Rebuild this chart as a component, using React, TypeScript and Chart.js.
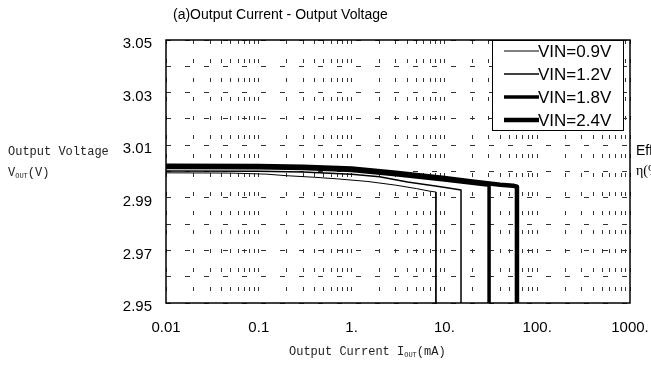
import React, { useEffect, useRef } from "react";
import { Chart, registerables } from "chart.js";

Chart.register(...registerables);

// ---- data ----
const seriesLabels = ["VIN=0.9V", "VIN=1.2V", "VIN=1.8V", "VIN=2.4V"];
const seriesWidths = [1, 1.5, 3.5, 4.5];

const current09 = [0.01, 0.05, 0.12, 0.2, 0.4, 0.7, 1.5, 3, 5, 7, 8.1, 8.1];
const vout09 = [2.9995, 2.9994, 2.999, 2.9984, 2.9978, 2.9972, 2.9962, 2.9948, 2.9935, 2.9925, 2.9922, 2.95];

const current12 = [0.01, 0.1, 0.3, 1, 2, 4, 8, 12, 15.1, 15.1];
const vout12 = [3.0002, 3.0001, 2.9998, 2.999, 2.998, 2.996, 2.9945, 2.9935, 2.993, 2.95];

const current18 = [0.01, 0.1, 0.3, 1, 3, 10, 20, 30.3, 30.3];
const vout18 = [3.0015, 3.0014, 3.0011, 3.0004, 2.9988, 2.9968, 2.9955, 2.9948, 2.95];

const current24 = [0.01, 0.1, 0.3, 1, 3, 10, 20, 40, 55, 60.5, 60.5];
const vout24 = [3.0022, 3.0021, 3.0018, 3.0011, 2.9995, 2.9975, 2.9962, 2.995, 2.9946, 2.9942, 2.95];

const xTickValues = [
  0.01, 0.02, 0.03, 0.04, 0.05, 0.06, 0.07, 0.08, 0.09,
  0.1, 0.2, 0.3, 0.4, 0.5, 0.6, 0.7, 0.8, 0.9,
  1, 2, 3, 4, 5, 6, 7, 8, 9,
  10, 20, 30, 40, 50, 60, 70, 80, 90,
  100, 200, 300, 400, 500, 600, 700, 800, 900,
  1000,
];
const xDecades = [0.01, 0.1, 1, 10, 100, 1000];
const xDecadeLabels = ["0.01", "0.1", "1.", "10.", "100.", "1000."];

const yTickValues = [2.95, 2.96, 2.97, 2.98, 2.99, 3.0, 3.01, 3.02, 3.03, 3.04, 3.05];
const yLabelled = [2.95, 2.97, 2.99, 3.01, 3.03, 3.05];
const yLabelTexts = ["2.95", "2.97", "2.99", "3.01", "3.03", "3.05"];

const titleText = "(a)Output Current - Output Voltage";

const toPoints = (xs: number[], ys: number[]) => xs.map((x, i) => ({ x, y: ys[i] }));

const frameAndLegend = {
  id: "frameAndLegend",
  afterDatasetsDraw(chart: any) {
    const { ctx, chartArea } = chart;
    const { left, top, right, bottom } = chartArea;
    ctx.save();
    // legend box
    const bx = right - 138;
    const bw = 131;
    const bh = 90;
    ctx.fillStyle = "#fff";
    ctx.fillRect(bx, top, bw, bh);
    ctx.strokeStyle = "#000";
    ctx.lineWidth = 1;
    ctx.strokeRect(bx + 0.5, top + 0.5, bw, bh);
    ctx.font = "17px 'Liberation Sans', Arial, sans-serif";
    ctx.textBaseline = "middle";
    ctx.textAlign = "left";
    ctx.fillStyle = "#000";
    chart.data.datasets.forEach((ds: any, i: number) => {
      const y = top + 11 + i * 23;
      ctx.beginPath();
      ctx.lineWidth = ds.borderWidth;
      ctx.strokeStyle = "#000";
      ctx.moveTo(bx + 12, y);
      ctx.lineTo(bx + 47, y);
      ctx.stroke();
      ctx.fillText(ds.label, bx + 46, y + 1);
    });
    // plot frame
    ctx.lineWidth = 1.5;
    ctx.strokeStyle = "#000";
    ctx.strokeRect(left, top, right - left, bottom - top);
    ctx.restore();
  },
};

export default function App() {
  const canvasRef = useRef<HTMLCanvasElement | null>(null);

  useEffect(() => {
    if (!canvasRef.current) return;
    const xs = [current09, current12, current18, current24];
    const ys = [vout09, vout12, vout18, vout24];
    const chart = new Chart(canvasRef.current, {
      type: "line",
      data: {
        datasets: seriesLabels.map((label, i) => ({
          label,
          data: toPoints(xs[i], ys[i]),
          borderColor: "#000",
          backgroundColor: "#000",
          borderWidth: seriesWidths[i],
          pointRadius: 0,
          tension: 0,
          borderJoinStyle: "round" as const,
          fill: false,
        })),
      },
      options: {
        animation: false,
        responsive: false,
        devicePixelRatio: 1,
        layout: { padding: { left: 0, top: 40, right: 21, bottom: 0 } },
        plugins: {
          legend: { display: false },
          tooltip: { enabled: false },
          title: { display: false },
        },
        scales: {
          x: {
            type: "logarithmic",
            min: 0.01,
            max: 1000,
            afterBuildTicks: (scale: any) => {
              scale.ticks = xTickValues.map((value) => ({ value }));
            },
            afterFit: (scale: any) => {
              scale.height = 64;
              scale.paddingLeft = 0;
              scale.paddingRight = 0;
            },
            ticks: {
              autoSkip: false,
              maxRotation: 0,
              minRotation: 0,
              padding: 16,
              color: "#000",
              font: { family: "'Liberation Sans', Arial, sans-serif", size: 15 },
              callback: (value: any) => {
                const v = Number(value);
                const idx = xDecades.findIndex((d) => Math.abs(v - d) / d < 1e-6);
                return idx >= 0 ? xDecadeLabels[idx] : "";
              },
            },
            grid: { color: "#333", lineWidth: 1, drawTicks: false },
            border: { display: false, dash: [4, 15] },
          },
          y: {
            type: "linear",
            min: 2.95,
            max: 3.05,
            afterBuildTicks: (scale: any) => {
              scale.ticks = yTickValues.map((value) => ({ value }));
            },
            afterFit: (scale: any) => {
              scale.width = 166;
              scale.paddingTop = 0;
              scale.paddingBottom = 0;
            },
            ticks: {
              autoSkip: false,
              padding: 14,
              labelOffset: 4,
              color: "#000",
              font: { family: "'Liberation Sans', Arial, sans-serif", size: 15 },
              callback: (value: any) => {
                const v = Number(value);
                const idx = yLabelled.findIndex((d) => Math.abs(v - d) < 1e-6);
                return idx >= 0 ? yLabelTexts[idx] : "";
              },
            },
            grid: { color: "#333", lineWidth: 1, drawTicks: false },
            border: { display: false, dash: [5, 14] },
          },
        },
      },
      plugins: [frameAndLegend],
    });
    return () => chart.destroy();
  }, []);

  const mono = "'Liberation Mono', 'Courier New', monospace";
  const sans = "'Liberation Sans', Arial, sans-serif";
  const subStyle: React.CSSProperties = { fontSize: "7px", verticalAlign: "-2px" };

  return (
    <div
      style={{
        position: "absolute",
        left: 0,
        top: 0,
        width: 651,
        height: 367,
        overflow: "hidden",
        background: "#fff",
      }}
    >
      <canvas ref={canvasRef} width={651} height={367} style={{ position: "absolute", left: 0, top: 0 }} />
      <div style={{ position: "absolute", left: 173, top: 6, font: `14px ${sans}`, lineHeight: "16px", whiteSpace: "nowrap", color: "#000" }}>
        {titleText}
      </div>
      <div style={{ position: "absolute", left: 8, top: 145, font: `12px ${mono}`, lineHeight: "14px", whiteSpace: "nowrap", color: "#222" }}>
        Output Voltage
      </div>
      <div style={{ position: "absolute", left: 8, top: 166, font: `12px ${mono}`, lineHeight: "14px", whiteSpace: "nowrap", color: "#222" }}>
        V<span style={subStyle}>OUT</span>(V)
      </div>
      <div style={{ position: "absolute", left: 289, top: 345, font: `12px ${mono}`, lineHeight: "14px", whiteSpace: "nowrap", color: "#222" }}>
        Output Current I<span style={subStyle}>OUT</span>(mA)
      </div>
      <div style={{ position: "absolute", left: 636, top: 142, font: `14px ${sans}`, lineHeight: "16px", whiteSpace: "nowrap", color: "#000" }}>
        Efficiency
      </div>
      <div style={{ position: "absolute", left: 636, top: 163, font: `14px 'Liberation Serif', serif`, lineHeight: "16px", whiteSpace: "nowrap", color: "#000" }}>
        η(%)
      </div>
    </div>
  );
}
